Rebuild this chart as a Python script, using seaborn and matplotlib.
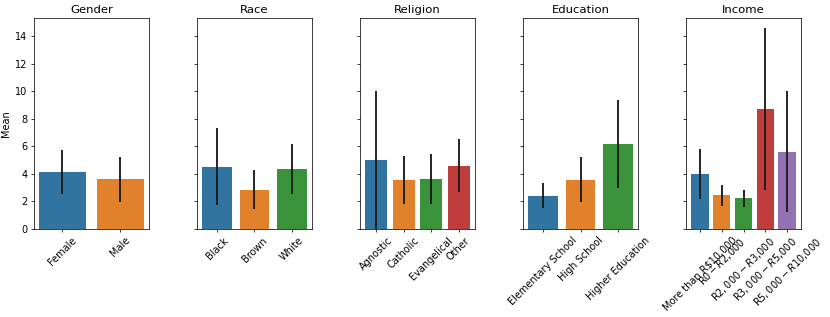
import matplotlib
matplotlib.use("Agg")
import matplotlib.pyplot as plt
import seaborn as sns
import pandas as pd

gender_labels = ["Female", "Male"]
gender_mean = [4.15, 3.6]
gender_low = [2.55, 1.95]
gender_high = [5.75, 5.2]

race_labels = ["Black", "Brown", "White"]
race_mean = [4.5, 2.85, 4.35]
race_low = [1.7, 1.45, 2.5]
race_high = [7.35, 4.25, 6.2]

religion_labels = ["Agnostic", "Catholic", "Evangelical", "Other"]
religion_mean = [5.0, 3.55, 3.6, 4.6]
religion_low = [0.0, 1.8, 1.8, 2.65]
religion_high = [10.0, 5.3, 5.45, 6.55]

education_labels = ["Elementary School", "High School", "Higher Education"]
education_mean = [2.4, 3.55, 6.15]
education_low = [1.5, 1.95, 3.0]
education_high = [3.3, 5.2, 9.4]

income_labels = ["More than R$10,000", "R$0 - R$2,000", "R$2,000 - R$3,000",
                 "R$3,000 - R$5,000", "R$5,000 - R$10,000"]
income_mean = [4.0, 2.45, 2.25, 8.7, 5.6]
income_low = [2.2, 1.65, 1.6, 2.8, 1.2]
income_high = [5.8, 3.2, 2.85, 14.6, 10.0]

panels = [
    ("Gender", gender_labels, gender_mean, gender_low, gender_high),
    ("Race", race_labels, race_mean, race_low, race_high),
    ("Religion", religion_labels, religion_mean, religion_low, religion_high),
    ("Education", education_labels, education_mean, education_low, education_high),
    ("Income", income_labels, income_mean, income_low, income_high),
]

DPI = 830 / 12.45
fig, axes = plt.subplots(1, 5, figsize=(12.45, 317 / DPI), dpi=DPI, sharey=True)
fig.subplots_adjust(left=0.041, right=0.965, top=0.943, bottom=0.278, wspace=0.42)

for ax, (title, labels, mean, low, high) in zip(axes, panels):
    df = pd.DataFrame({"cat": labels, "mean": mean})
    sns.barplot(data=df, x="cat", y="mean", hue="cat", palette="tab10",
                legend=False, errorbar=None, ax=ax)
    ax.vlines(range(len(labels)), low, high, color="0.1", lw=2.0)
    ax.set_title(title, fontsize=12.5)
    ax.set_xlabel("")
    ax.set_ylabel("")
    ax.tick_params(axis="both", labelsize=10.5)
    ax.tick_params(axis="x", labelrotation=45)

axes[0].set_ylabel("Mean", fontsize=10.5)
axes[0].set_ylim(0, 15.33)
axes[0].set_yticks([0, 2, 4, 6, 8, 10, 12, 14])

fig.savefig("out.png", dpi=DPI)
